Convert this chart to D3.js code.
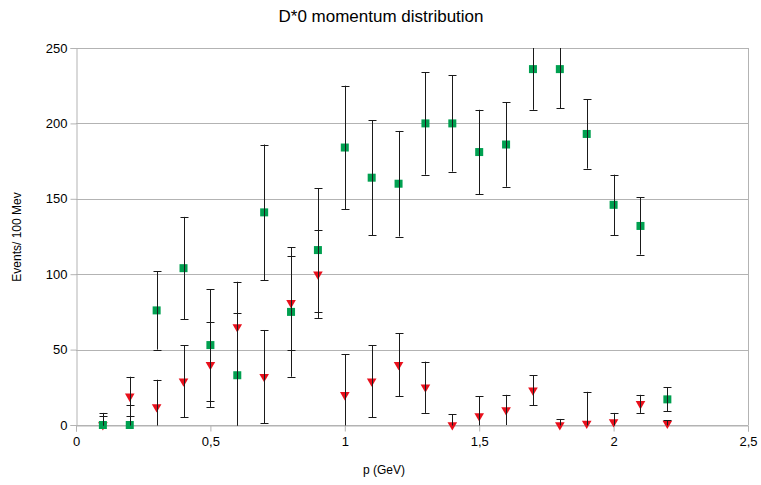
<!DOCTYPE html>
<html>
<head>
<meta charset="utf-8">
<script src="https://cdn.jsdelivr.net/npm/d3@7"></script>
<style>
  html, body { margin: 0; padding: 0; background: #fff; }
  svg { display: block; font-family: "Liberation Sans", Arial, sans-serif; }
</style>
</head>
<body>
<svg id="chart" width="761" height="485"></svg>
<script>
// Momentum bins (GeV)
const momentum = [0.1, 0.2, 0.3, 0.4, 0.5, 0.6, 0.7, 0.8, 0.9, 1.0, 1.1,
                  1.2, 1.3, 1.4, 1.5, 1.6, 1.7, 1.8, 1.9, 2.0, 2.1, 2.2];

// Signal series (green squares) and symmetric errors
const signal    = [0, 0, 76, 104, 53, 33, 141, 75, 116, 184, 164,
                   160, 200, 200, 181, 186, 236, 236, 193, 146, 132, 17];
const signalErr = [8, 13, 26, 34, 37, 62, 45, 43, 41, 41, 38,
                   35, 34, 32, 28, 28, 27, 26, 23, 20, 19, 8];

// Background series (red triangles) with upper / lower errors
const background    = [0, 19, 12, 29, 40, 65, 32, 81, 100, 20, 29,
                       40, 25, 0, 6, 10, 23, 0, 1, 2, 14, 1];
const backgroundErrUp   = [6, 13, 18, 24, 28, 9, 31, 31, 29, 27, 24,
                           21, 17, 7, 13, 10, 10, 4, 21, 6, 6, 2];
const backgroundErrDown = [6, 13, 18, 24, 28, 70, 31, 31, 29, 27, 24,
                           21, 17, 7, 13, 10, 10, 4, 21, 6, 6, 2];

const xTicks = [0, 0.5, 1, 1.5, 2, 2.5];
const xTickLabels = ["0", "0,5", "1", "1,5", "2", "2,5"];
const yTicks = [0, 50, 100, 150, 200, 250];

const svg = d3.select("#chart");
const m = { left: 76, right: 748, top: 48, bottom: 425 };

const x = d3.scaleLinear().domain([0, 2.5]).range([m.left, m.right]);
const y = d3.scaleLinear().domain([0, 250]).range([m.bottom, m.top]);

// Title
svg.append("text")
  .attr("x", 381).attr("y", 22)
  .attr("text-anchor", "middle")
  .attr("font-size", 17)
  .attr("fill", "#000")
  .text("D*0 momentum distribution");

// Horizontal grid lines
svg.append("g")
  .selectAll("line")
  .data(yTicks)
  .join("line")
  .attr("x1", m.left).attr("x2", m.right)
  .attr("y1", d => Math.round(y(d)) + 0.5).attr("y2", d => Math.round(y(d)) + 0.5)
  .attr("stroke", "#b3b3b3").attr("stroke-width", 1);

// Right frame edge
svg.append("line")
  .attr("x1", Math.round(x(2.5)) + 0.5).attr("x2", Math.round(x(2.5)) + 0.5)
  .attr("y1", m.top).attr("y2", m.bottom)
  .attr("stroke", "#b3b3b3");

// Y axis
const yAxis = d3.axisLeft(y).tickValues(yTicks).tickSize(6).tickPadding(3);
const gy = svg.append("g")
  .attr("transform", `translate(${m.left + 0.5},0)`)
  .call(yAxis);
gy.select(".domain").attr("stroke", "#b3b3b3");
gy.selectAll(".tick line").attr("stroke", "#b3b3b3");
gy.selectAll(".tick text").attr("font-size", 13).attr("fill", "#000")
  .attr("font-family", "Liberation Sans, Arial, sans-serif");

// X axis
const xAxis = d3.axisBottom(x).tickValues(xTicks)
  .tickFormat((d, i) => xTickLabels[i]).tickSize(6).tickPadding(5);
const gx = svg.append("g")
  .attr("transform", `translate(0,${m.bottom + 0.5})`)
  .call(xAxis);
gx.select(".domain").attr("stroke", "#b3b3b3");
gx.selectAll(".tick line").attr("stroke", "#b3b3b3");
gx.selectAll(".tick text").attr("font-size", 13).attr("fill", "#000")
  .attr("font-family", "Liberation Sans, Arial, sans-serif");

// Axis titles
svg.append("text")
  .attr("x", 384).attr("y", 474)
  .attr("text-anchor", "middle")
  .attr("font-size", 12)
  .text("p (GeV)");

svg.append("text")
  .attr("transform", "translate(21,237) rotate(-90)")
  .attr("text-anchor", "middle")
  .attr("font-size", 12)
  .text("Events/ 100 Mev");

// Clip error bars to the plot area
svg.append("clipPath").attr("id", "plot-clip")
  .append("rect")
  .attr("x", m.left).attr("y", m.top)
  .attr("width", m.right - m.left).attr("height", m.bottom - m.top + 0.5);

// Markers are not clipped so points sitting on zero show fully
const marks = svg.append("g");

// Background markers: downward triangles
const tri = d3.symbol().type(d3.symbolTriangle).size(40);
marks.append("g")
  .selectAll("path")
  .data(momentum.map((p, i) => ({ p, v: background[i] })))
  .join("path")
  .attr("d", tri)
  .attr("transform", d => `translate(${x(d.p)},${y(d.v)}) rotate(180)`)
  .attr("fill", "#e8101c");

// Signal markers: squares
const sq = 8;
marks.append("g")
  .selectAll("rect")
  .data(momentum.map((p, i) => ({ p, v: signal[i] })))
  .join("rect")
  .attr("x", d => x(d.p) - sq / 2)
  .attr("y", d => y(d.v) - sq / 2)
  .attr("width", sq).attr("height", sq)
  .attr("fill", "#00a050");

// Error bars (drawn over the markers)
const errData = [];
momentum.forEach((p, i) => {
  errData.push({ p, lo: signal[i] - signalErr[i], hi: signal[i] + signalErr[i] });
  errData.push({ p, lo: background[i] - backgroundErrDown[i], hi: background[i] + backgroundErrUp[i] });
});

const capHalf = 4;
const eb = svg.append("g").attr("clip-path", "url(#plot-clip)")
  .attr("stroke", "#1a1a1a").attr("stroke-width", 1);
errData.forEach(d => {
  const cx = Math.round(x(d.p)) + 0.5;
  const g = eb.append("g");
  g.append("line")
    .attr("x1", cx).attr("x2", cx)
    .attr("y1", y(d.lo)).attr("y2", y(d.hi));
  [d.lo, d.hi].forEach(v => {
    if (v > 0 && v < 250) {
      const yy = Math.round(y(v)) + 0.5;
      g.append("line")
        .attr("x1", cx - capHalf).attr("x2", cx + capHalf)
        .attr("y1", yy).attr("y2", yy);
    }
  });
});
</script>
</body>
</html>
